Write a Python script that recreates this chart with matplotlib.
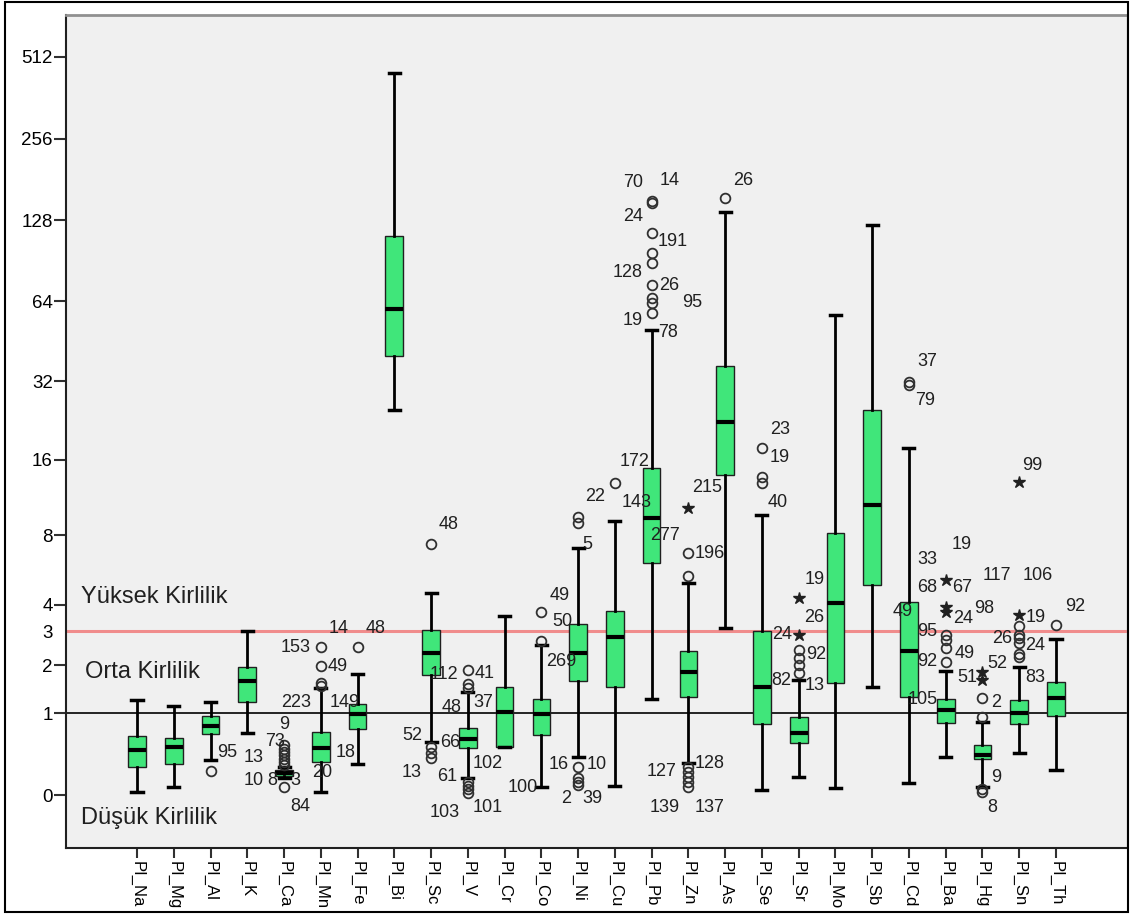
import numpy as np
import matplotlib
matplotlib.use("Agg")
import matplotlib.pyplot as plt
import matplotlib.transforms as mtransforms
from matplotlib.patches import Rectangle

plt.rcParams["font.family"] = ["Liberation Sans", "DejaVu Sans"]

# ---- data (original units) ----
elements = ["PI_Na", "PI_Mg", "PI_Al", "PI_K", "PI_Ca", "PI_Mn", "PI_Fe", "PI_Bi",
            "PI_Sc", "PI_V", "PI_Cr", "PI_Co", "PI_Ni", "PI_Cu", "PI_Pb", "PI_Zn",
            "PI_As", "PI_Se", "PI_Sr", "PI_Mo", "PI_Sb", "PI_Cd", "PI_Ba", "PI_Hg",
            "PI_Sn", "PI_Th"]
whis_lo = [0.03, 0.07, 0.34, 0.69, 0.15, 0.03, 0.30, 25.0, 0.56, 0.15, 0.50, 0.07, 0.38,
           0.08, 1.25, 0.31, 3.10, 0.04, 0.16, 0.06, 1.49, 0.11, 0.38, 0.07, 0.43, 0.24]
q1 = [0.27, 0.30, 0.67, 1.19, 0.17, 0.32, 0.75, 40.0, 1.76, 0.49, 0.50, 0.66, 1.62,
      1.49, 6.11, 1.29, 13.95, 0.82, 0.55, 1.58, 4.9, 1.29, 0.84, 0.36, 0.82, 0.95]
median = [0.46, 0.50, 0.79, 1.62, 0.20, 0.49, 0.98, 60.0, 2.32, 0.61, 1.02, 0.98, 2.32,
          2.80, 9.4, 1.83, 22.4, 1.49, 0.69, 4.07, 10.6, 2.38, 1.05, 0.40, 1.00, 1.27]
q3 = [0.65, 0.62, 0.95, 1.95, 0.24, 0.70, 1.16, 112.0, 3.03, 0.76, 1.49, 1.25, 3.24,
      3.74, 14.87, 2.38, 36.6, 3.00, 0.93, 8.16, 24.9, 4.11, 1.25, 0.53, 1.23, 1.60]
whis_hi = [1.23, 1.12, 1.19, 3.00, 0.27, 1.47, 1.78, 446.0, 4.51, 1.39, 3.54, 2.55, 7.07,
           9.13, 49.9, 5.0, 137.0, 9.66, 1.64, 56.8, 122.8, 17.8, 1.85, 0.85, 1.95, 2.74]

# outliers (circles) and extremes (stars) per element
circles = {
    "PI_Al": [0.22],
    "PI_Ca": [0.53, 0.48, 0.44, 0.40, 0.36, 0.32, 0.29, 0.07],
    "PI_Mn": [2.49, 1.97, 1.58, 1.52],
    "PI_Fe": [2.49],
    "PI_Sc": [7.35, 0.50, 0.43, 0.37],
    "PI_V": [1.88, 1.55, 1.47, 0.12, 0.08, 0.05, 0.02],
    "PI_Co": [3.70, 2.68],
    "PI_Ni": [9.49, 8.97, 0.27, 0.15, 0.12, 0.09],
    "PI_Cu": [12.98],
    "PI_Pb": [150.6, 148.0, 114.7, 96.7, 88.8, 73.5, 65.8, 63.0, 57.8],
    "PI_Zn": [6.73, 5.37, 0.27, 0.21, 0.16, 0.12, 0.07],
    "PI_As": [154.5],
    "PI_Se": [17.8, 13.7, 12.98],
    "PI_Sr": [2.41, 2.18, 2.0, 1.8],
    "PI_Cd": [31.8, 31.0],
    "PI_Ba": [2.87, 2.72, 2.47, 2.08],
    "PI_Hg": [1.27, 0.93, 0.05, 0.03],
    "PI_Sn": [3.17, 2.87, 2.77, 2.61, 2.3, 2.2],
    "PI_Th": [3.21],
}
stars = {
    "PI_Zn": [10.3],
    "PI_Sr": [4.29, 2.87],
    "PI_Ba": [5.16, 3.9, 3.7],
    "PI_Hg": [1.83, 1.64],
    "PI_Sn": [13.1, 3.58],
}

# case labels: (element, value, text, horizontal offset in px)
case_labels = [
    ("PI_Al", 0.43, "95", 17),
    ("PI_Ca", 0.37, "13", -30), ("PI_Ca", 0.135, "10", -30), ("PI_Ca", 0.135, "8", -12),
    ("PI_Ca", 0.135, "3", 11), ("PI_Ca", 0.82, "9", 0), ("PI_Ca", 0.57, "73", -9),
    ("PI_Ca", -0.09, "84", 16),
    ("PI_Mn", 2.47, "153", -25), ("PI_Mn", 1.97, "49", 17), ("PI_Mn", 1.18, "223", -25),
    ("PI_Mn", 0.43, "18", 25), ("PI_Mn", 0.21, "20", 1), ("PI_Mn", 3.10, "14", 18),
    ("PI_Fe", 3.10, "48", 18), ("PI_Fe", 1.19, "149", -13),
    ("PI_Sc", 8.80, "48", 18), ("PI_Sc", 0.66, "52", -19), ("PI_Sc", 0.21, "13", -19),
    ("PI_Sc", 1.76, "112", 13),
    ("PI_V", 1.80, "41", 17), ("PI_V", 1.19, "37", 15), ("PI_V", 1.09, "48", -16),
    ("PI_V", 0.56, "66", -18), ("PI_V", 0.17, "61", -21), ("PI_V", 0.31, "102", 20),
    ("PI_V", -0.14, "103", -23), ("PI_V", -0.10, "101", 20),
    ("PI_Co", 4.42, "49", 18), ("PI_Co", 3.32, "50", 21), ("PI_Co", 0.07, "100", -19),
    ("PI_Ni", 2.08, "269", -17), ("PI_Ni", 0.29, "16", -19), ("PI_Ni", 0.29, "10", 19),
    ("PI_Ni", -0.025, "2", -12), ("PI_Ni", -0.025, "39", 14), ("PI_Ni", 7.28, "5", 9),
    ("PI_Cu", 11.42, "22", -20),
    ("PI_Pb", 175.5, "70", -19), ("PI_Pb", 178.5, "14", 18), ("PI_Pb", 131.4, "24", -19),
    ("PI_Pb", 106.2, "191", 21), ("PI_Pb", 81.5, "128", -24), ("PI_Pb", 73.5, "26", 18),
    ("PI_Pb", 63.0, "95", 41), ("PI_Pb", 54.4, "19", -19), ("PI_Pb", 48.7, "78", 16),
    ("PI_Pb", 15.7, "172", -17), ("PI_Pb", 10.9, "143", -15), ("PI_Pb", 7.93, "277", 13),
    ("PI_Zn", 12.5, "215", 19), ("PI_Zn", 6.73, "196", 21), ("PI_Zn", 0.22, "127", -27),
    ("PI_Zn", 0.31, "128", 21), ("PI_Zn", -0.10, "139", -24), ("PI_Zn", -0.10, "137", 21),
    ("PI_As", 178.5, "26", 18),
    ("PI_Se", 20.9, "23", 18), ("PI_Se", 16.4, "19", 18), ("PI_Se", 10.9, "40", 16),
    ("PI_Sr", 5.16, "19", 16), ("PI_Sr", 3.47, "26", 16), ("PI_Sr", 2.87, "24", -17),
    ("PI_Sr", 2.27, "92", 18), ("PI_Sr", 1.64, "82", -17), ("PI_Sr", 1.53, "13", 16),
    ("PI_Cd", 37.9, "37", 18), ("PI_Cd", 26.95, "79", 16), ("PI_Cd", 3.70, "49", -6),
    ("PI_Cd", 1.25, "105", 14),
    ("PI_Ba", 7.28, "19", 16), ("PI_Ba", 6.35, "33", -18), ("PI_Ba", 4.80, "68", -19),
    ("PI_Ba", 4.80, "67", 16), ("PI_Ba", 3.43, "24", 17), ("PI_Ba", 2.97, "95", -19),
    ("PI_Ba", 2.08, "92", -19), ("PI_Ba", 2.32, "49", 19),
    ("PI_Hg", 0.16, "9", 14), ("PI_Hg", -0.10, "8", 10), ("PI_Hg", 1.18, "2", 14),
    ("PI_Hg", 1.69, "51", -15), ("PI_Hg", 2.05, "52", 15), ("PI_Hg", 3.82, "98", 2),
    ("PI_Hg", 5.42, "117", 14),
    ("PI_Sn", 15.27, "99", 13), ("PI_Sn", 5.42, "106", 19), ("PI_Sn", 3.50, "19", 16),
    ("PI_Sn", 2.77, "26", -17), ("PI_Sn", 2.55, "24", 16), ("PI_Sn", 1.71, "83", 16),
    ("PI_Th", 3.94, "92", 19),
]

y_ticks = [0, 1, 2, 3, 4, 8, 16, 32, 64, 128, 256, 512]
zone_names = ["Yüksek Kirlilik", "Orta Kirlilik", "Düşük Kirlilik"]
zone_values = [4.33, 1.83, -0.18]
low_line = 1
high_line = 3


def fwd(v):
    return np.log2(np.maximum(np.asarray(v, dtype=float) + 1.0, 1e-9))


def inv(t):
    return np.power(2.0, t) - 1.0


BOX_GREEN = "#40E67A"
PLOT_BG = "#F0F0F0"

fig = plt.figure(figsize=(11.32, 9.15), dpi=100)
fig.patch.set_facecolor("white")
ax = fig.add_axes([66 / 1132, 1 - 848 / 915, (1127 - 66) / 1132, (848 - 15) / 915])
ax.set_facecolor(PLOT_BG)
ax.set_yscale("function", functions=(fwd, inv))

positions = np.arange(1, len(elements) + 1)
stats = []
for i, name in enumerate(elements):
    stats.append(dict(label=name, whislo=whis_lo[i], q1=q1[i], med=median[i],
                      q3=q3[i], whishi=whis_hi[i], fliers=[]))

ax.axhline(low_line, color="black", lw=1.2, zorder=1)
ax.axhline(high_line, color="#F08C8C", lw=2.2, zorder=1)

ax.bxp(stats, positions=positions, widths=0.48, capwidths=0.3, patch_artist=True,
       showfliers=False,
       boxprops=dict(facecolor=BOX_GREEN, edgecolor="#202020", linewidth=1.0),
       medianprops=dict(color="black", linewidth=3.0),
       whiskerprops=dict(color="black", linewidth=2.0),
       capprops=dict(color="black", linewidth=2.5))

for i, name in enumerate(elements):
    if name in circles:
        vals = circles[name]
        ax.plot([positions[i]] * len(vals), vals, linestyle="none", marker="o",
                markersize=7, markerfacecolor="none", markeredgecolor="#303030",
                markeredgewidth=1.3, zorder=4)
    if name in stars:
        vals = stars[name]
        ax.plot([positions[i]] * len(vals), vals, linestyle="none", marker="*",
                markersize=9, color="#202020", zorder=4)

pos_of = dict(zip(elements, positions))
for name, val, txt, dx in case_labels:
    ax.annotate(txt, xy=(pos_of[name], val), xytext=(dx, 0), textcoords="offset pixels",
                ha="center", va="center", fontsize=13, color="#202020", zorder=5)

blend = mtransforms.blended_transform_factory(ax.transAxes, ax.transData)
for name, val in zip(zone_names, zone_values):
    x0 = 0.014 if name != "Orta Kirlilik" else 0.018
    ax.text(x0, val, name, transform=blend, ha="left", va="center",
            fontsize=17, color="#202020")

ax.set_xlim(1 - 71 / 36.76, len(elements) + 71 / 36.76)
ax.set_ylim(-0.361, 729)

ax.set_yticks(y_ticks)
ax.set_yticklabels([str(t) for t in y_ticks], fontsize=13.5)
ax.yaxis.set_minor_locator(matplotlib.ticker.NullLocator())
ax.tick_params(axis="y", direction="out", length=8.5, width=1.5, pad=1, color="#303030")
for tick, val in zip(ax.yaxis.get_major_ticks(), y_ticks):
    if val == 3:
        tick.tick1line.set_visible(False)

ax.set_xticks(positions)
ax.set_xticklabels(elements, rotation=270, fontsize=12, va="top", ha="center")
ax.tick_params(axis="x", direction="out", length=7.5, width=1.5, pad=2, color="#303030")

for side in ["left", "bottom"]:
    ax.spines[side].set_color("#202020")
    ax.spines[side].set_linewidth(1.5)
ax.spines["top"].set_color("#909090")
ax.spines["top"].set_linewidth(2.0)
ax.spines["right"].set_color("#C0C0C0")
ax.spines["right"].set_linewidth(1.0)

fig.patches.append(Rectangle((5 / 1132, 1 - 912 / 915), (1128 - 5) / 1132, (912 - 2) / 915,
                             transform=fig.transFigure, fill=False, lw=1.5,
                             edgecolor="black", zorder=10))

fig.savefig("out.png", dpi=100, facecolor="white")
